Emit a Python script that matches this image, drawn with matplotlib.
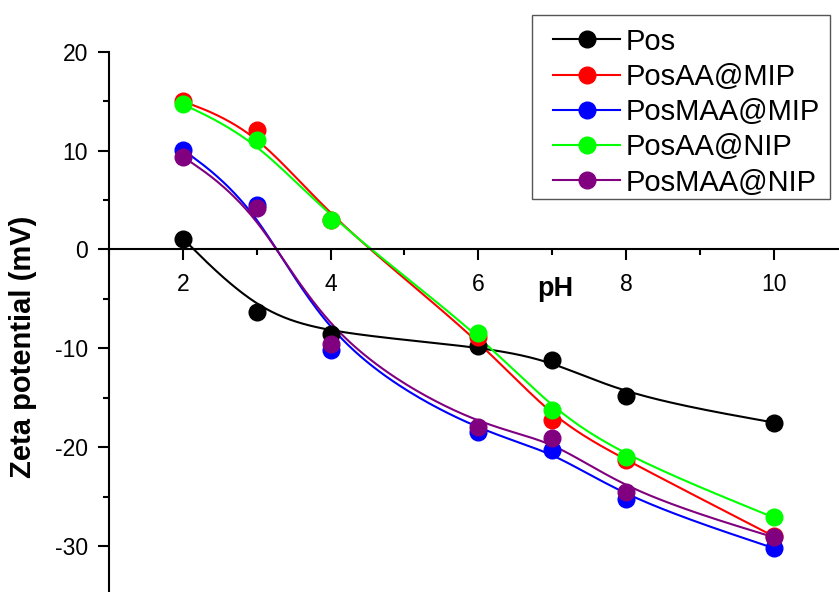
import numpy as np
import matplotlib
matplotlib.use("Agg")
import matplotlib.pyplot as plt
from matplotlib.lines import Line2D
from matplotlib.patches import Rectangle
from matplotlib.ticker import MultipleLocator

plt.rcParams['font.family'] = ['Liberation Sans', 'DejaVu Sans']
plt.rcParams['axes.unicode_minus'] = False

ph = [2, 3, 4, 6, 7, 8, 10]
pos = [1.1, -6.3, -8.5, -9.8, -11.2, -14.8, -17.5]
posaa_mip = [15.0, 12.1, 3.0, -8.9, -17.2, -21.3, -29.0]
posmaa_mip = [10.1, 4.5, -10.2, -18.5, -20.3, -25.2, -30.2]
posaa_nip = [14.7, 11.1, 3.0, -8.4, -16.2, -21.0, -27.1]
posmaa_nip = [9.4, 4.2, -9.6, -18.0, -19.1, -24.5, -29.1]

names = ['Pos', 'PosAA@MIP', 'PosMAA@MIP', 'PosAA@NIP', 'PosMAA@NIP']
series = [pos, posaa_mip, posmaa_mip, posaa_nip, posmaa_nip]
colors = ['#000000', '#ff0000', '#0000ff', '#00ff00', '#800080']


def bspline(xs, ys, n=40):
    # clamped uniform cubic B-spline, data points used as control points
    p = np.column_stack([xs, ys]).astype(float)
    p = np.vstack([p[:1], p[:1], p, p[-1:], p[-1:]])
    t = np.linspace(0, 1, n)
    b0 = (1 - t) ** 3 / 6
    b1 = (3 * t ** 3 - 6 * t ** 2 + 4) / 6
    b2 = (-3 * t ** 3 + 3 * t ** 2 + 3 * t + 1) / 6
    b3 = t ** 3 / 6
    out = []
    for i in range(len(p) - 3):
        seg = (np.outer(b0, p[i]) + np.outer(b1, p[i + 1])
               + np.outer(b2, p[i + 2]) + np.outer(b3, p[i + 3]))
        out.append(seg)
    out = np.vstack(out)
    return out[:, 0], out[:, 1]


W, H = 839, 592
fig = plt.figure(figsize=(W / 100, H / 100), dpi=100)
ax = fig.add_axes([0.13, -0.006, 0.88, 0.9187])

for ys, c in zip(series, colors):
    sx, sy = bspline(ph, ys)
    ax.plot(sx, sy, color=c, lw=1.5, zorder=2)
    ax.plot(ph, ys, 'o', color=c, ms=12, mec=c, zorder=3)

ax.set_xlim(1, 11)
ax.set_ylim(-35, 20)

ax.spines['top'].set_visible(False)
ax.spines['right'].set_visible(False)
ax.spines['bottom'].set_position(('data', 0))
ax.spines['left'].set_linewidth(1.5)
ax.spines['bottom'].set_linewidth(1.5)

ax.set_xticks([2, 4, 6, 8, 10])
ax.xaxis.set_minor_locator(MultipleLocator(1))
ax.set_yticks([-30, -20, -10, 0, 10, 20])
ax.yaxis.set_minor_locator(MultipleLocator(5))
ax.tick_params(which='major', length=8, width=1.5, labelsize=16.5, pad=7)
ax.tick_params(which='minor', length=4.5, width=1.5)
ax.tick_params(axis='x', pad=9)

ax.set_xlabel('pH', fontsize=19.5, fontweight='bold', va='baseline')
ax.xaxis.set_label_coords(7.04, -4.7, transform=ax.transData)
ax.set_ylabel('Zeta potential (mV)', fontsize=21, fontweight='bold', va='center')
ax.yaxis.set_label_coords(-0.1165, -9.8, transform=ax.get_yaxis_transform())

# legend box drawn on its own, entries placed inside it
fig.patches.append(Rectangle((532 / W, 1 - 199 / H), 298 / W, 184 / H,
                             transform=fig.transFigure, fill=False,
                             edgecolor='#555555', lw=1.0, zorder=5))
handles = [Line2D([], [], color=c, lw=1.5, marker='o', ms=12) for c in colors]
leg = ax.legend(handles, names, loc='upper left', bbox_to_anchor=(553 / W, 1 - 27.5 / H),
                bbox_transform=fig.transFigure, fontsize=21, frameon=False,
                handlelength=2.3, handletextpad=0.2,
                labelspacing=0.25, borderpad=0, borderaxespad=0)

fig.savefig('out.png', dpi=100)
